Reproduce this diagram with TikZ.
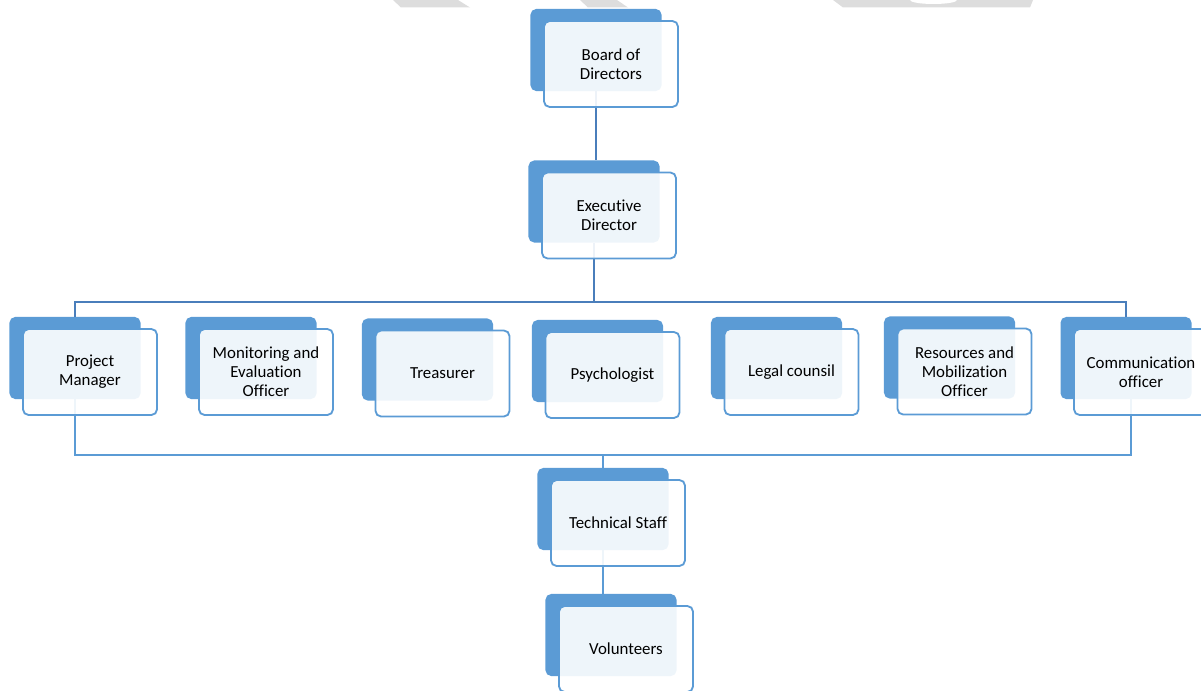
\documentclass[tikz,border=0pt]{standalone}
\usepackage{fontspec}
\setmainfont{Carlito}[Ligatures=NoCommon]
\usetikzlibrary{calc}
\definecolor{accent}{HTML}{5B9BD5}
\definecolor{linkdark}{HTML}{4A7EBB}
\definecolor{wmark}{HTML}{DDDDDD}
\begin{document}
\begin{tikzpicture}[x=0.025cm, y=-0.025cm,
  back/.style={fill=accent,rounded corners=4pt,minimum width=3.275cm,minimum height=2.05cm,inner sep=0pt},
  front/.style={draw=accent,line width=1.3pt,fill=white,fill opacity=0.9,text opacity=1,rounded corners=4pt,
    minimum width=3.35cm,minimum height=2.15cm,align=center,inner sep=2pt,text=black,
    font=\fontsize{12}{13.5}\selectfont},
  link/.style={draw=linkdark,line width=1.5pt},
  sublink/.style={draw=accent,line width=1.5pt}]
\useasboundingbox (0,0) rectangle (1201,690);
% watermark at the top
\fill[wmark] (393,0) -- (458,0) -- (470,7.5) -- (401,7.5) -- cycle;
\fill[wmark] (580,0) -- (617,0) -- (628,7.5) -- (588,7.5) -- cycle;
\fill[wmark] (833,0) -- (1033,0) -- (1030,7.5) -- (843,7.5) -- cycle;
\fill[white] (910,0) arc[start angle=180,end angle=0,x radius=23.5,y radius=4] -- cycle;
% back boxes
\node[back] (board-b) at (596,50) {};
\node[back] (exec-b) at (594,201.5) {};
\node[back] (pm-b) at (75,358) {};
\node[back] (me-b) at (251,358) {};
\node[back] (tr-b) at (427.5,359.5) {};
\node[back] (ps-b) at (597.5,361) {};
\node[back] (lc-b) at (776.5,358) {};
\node[back] (rm-b) at (949.5,357.5) {};
\node[back] (co-b) at (1126,358) {};
\node[back] (ts-b) at (603,509) {};
\node[back] (vo-b) at (611,635) {};
% connectors
\coordinate (bus) at (596,302);
\coordinate (lbus) at (603,455);
\draw[link] (board-b.south) -- (board-b.south |- exec-b.north);
\draw[link] (exec-b.south) -- (exec-b.south |- bus);
\draw[link] (pm-b.north) |- (bus) -| (co-b.north);
\draw[sublink] (pm-b.south) |- (lbus) -| ($(co-b.south)+(5,0)$);
\draw[sublink] (ts-b.north |- lbus) -- (ts-b.north);
\draw[sublink] (ts-b.south) -- (ts-b.south |- vo-b.north);
% front boxes
\node[front] (board) at ($(board-b)+(15,14)$) {Board of\\Directors};
\node[front] (exec) at ($(exec-b)+(15,14)$) {Executive\\Director};
\node[front] (pm) at ($(pm-b)+(15,14)$) {Project\\Manager};
\node[front] (me) at ($(me-b)+(15,14)$) {Monitoring and\\Evaluation\\Officer};
\node[front] (tr) at ($(tr-b)+(15,14)$) {Treasurer};
\node[front] (ps) at ($(ps-b)+(15,14)$) {Psychologist};
\node[front] (lc) at ($(lc-b)+(15,14)$) {Legal counsil};
\node[front] (rm) at ($(rm-b)+(15,14)$) {Resources and\\Mobilization\\Officer};
\node[front] (co) at ($(co-b)+(15,14)$) {Communication\\officer};
\node[front] (ts) at ($(ts-b)+(15,14)$) {Technical Staff};
\node[front] (vo) at ($(vo-b)+(15,14)$) {Volunteers};
\end{tikzpicture}
\end{document}
